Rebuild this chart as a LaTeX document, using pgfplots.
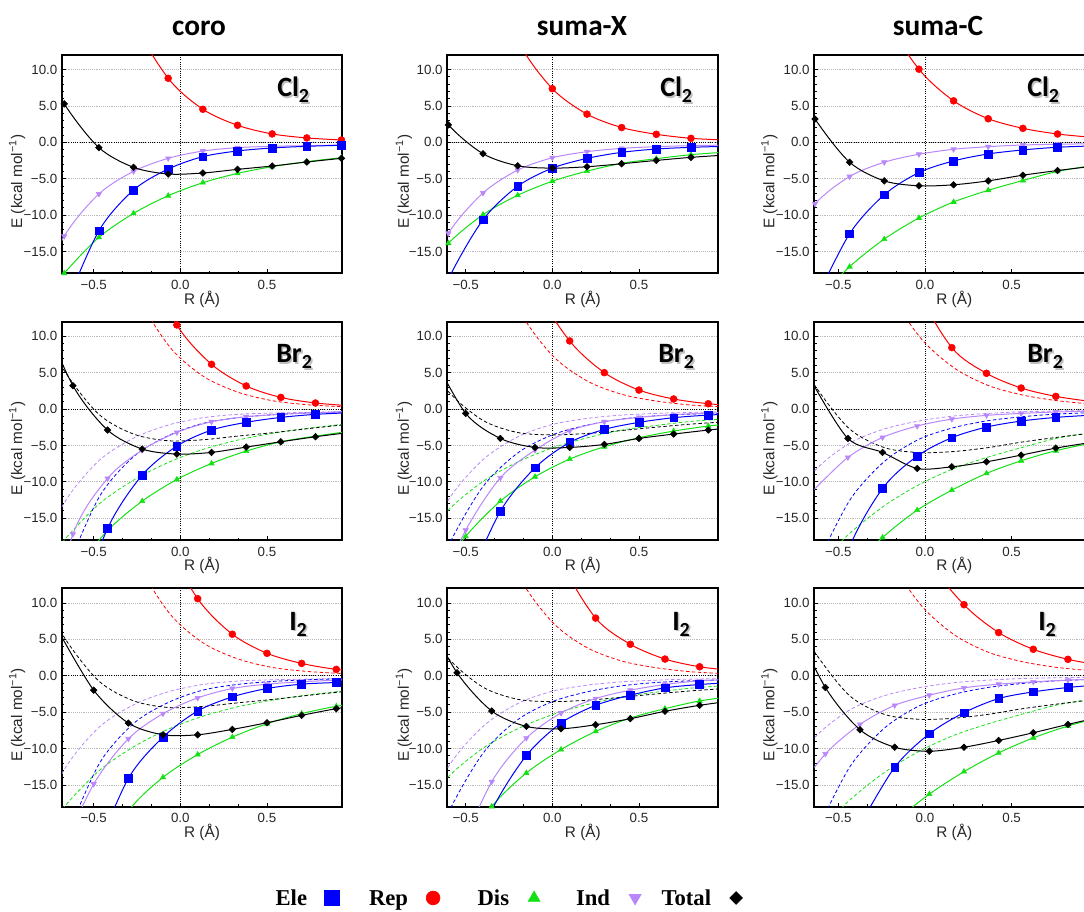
\documentclass[border=0pt]{standalone}
\usepackage{pgfplots}
\pgfplotsset{compat=1.18}
\usepackage{pgfplotstable}
\usepackage{fontspec}
\setmainfont{Liberation Sans}
\newfontfamily\titlefont{Carlito}
\newfontfamily\legfont{Liberation Serif}

\definecolor{cEle}{RGB}{0,0,255}
\definecolor{cRep}{RGB}{255,0,0}
\definecolor{cDis}{RGB}{20,225,20}
\definecolor{cInd}{RGB}{185,135,250}
\definecolor{cTot}{RGB}{0,0,0}

% ---------------- data (x, Ele, Rep, Dis, Ind, Total) ----------------
\pgfplotstableread{
x E R D I T
-0.87 nan nan -24.0 -23.0 14.0
-0.67 -22.9 nan -18.0 -12.9 5.28
-0.47 -12.16 32.0 -13.07 -7.1 -0.73
-0.27 -6.56 17.0 -9.77 -3.99 -3.44
-0.07 -3.67 8.8 -7.34 -2.2 -4.36
0.13 -1.97 4.54 -5.55 -1.2 -4.22
0.33 -1.19 2.34 -4.27 -0.73 -3.72
0.53 -0.78 1.15 -3.35 -0.55 -3.26
0.73 -0.55 0.6 -2.66 -0.46 -2.71
0.93 -0.41 0.32 -2.11 -0.37 -2.2
}\coroCl
\pgfplotstableread{
x E R D I T
-0.8 -30.0 nan -19.5 -22.0 9.0
-0.6 -18.8 nan -13.87 -12.5 2.4
-0.4 -10.65 26.0 -9.95 -6.96 -1.57
-0.2 -6.04 14.0 -7.28 -3.82 -3.23
0.0 -3.55 7.37 -5.35 -2.12 -3.55
0.2 -2.21 3.87 -3.96 -1.29 -3.36
0.4 -1.38 2.03 -2.9 -0.83 -2.95
0.6 -0.92 1.1 -2.25 -0.6 -2.49
0.8 -0.69 0.55 -1.7 -0.46 -2.07
1.0 -0.55 0.3 -1.35 -0.38 -1.75
}\sumaXCl
\pgfplotstableread{
x E R D I T
-0.835 nan nan -28.0 -15.0 11.0
-0.635 -21.9 nan -22.0 -8.45 3.2
-0.435 -12.56 31.0 -17.1 -4.7 -2.74
-0.235 -7.21 17.7 -13.3 -2.74 -5.3
-0.035 -4.16 10.05 -10.4 -1.64 -5.98
0.165 -2.56 5.7 -8.2 -0.96 -5.84
0.365 -1.6 3.24 -6.6 -0.6 -5.3
0.565 -1.05 1.92 -5.25 -0.37 -4.52
0.765 -0.68 1.14 -4.0 -0.27 -3.88
0.965 -0.5 0.68 -3.2 -0.2 -3.3
}\sumaCCl
\pgfplotstableread{
x E R D I T
-0.82 nan nan nan -35.0 14.0
-0.62 -29.5 nan -22.5 -17.2 3.21
-0.42 -16.4 40.0 -16.7 -9.54 -2.89
-0.22 -9.08 21.8 -12.66 -5.64 -5.5
-0.02 -5.09 11.56 -9.68 -3.21 -6.19
0.18 -2.89 6.15 -7.48 -1.74 -5.96
0.38 -1.83 3.17 -5.78 -1.06 -5.23
0.58 -1.15 1.6 -4.5 -0.73 -4.5
0.78 -0.73 0.83 -3.72 -0.5 -3.81
0.98 -0.5 0.45 -3.05 -0.38 -3.2
}\coroBr
\pgfplotstableread{
x E R D I T
-0.7 nan nan -24.0 -27.0 7.8
-0.5 -24.4 nan -17.5 -16.65 -0.6
-0.3 -14.04 30.0 -12.66 -9.45 -4.04
-0.1 -8.07 17.0 -9.31 -5.64 -5.28
0.1 -4.59 9.36 -6.88 -2.98 -5.28
0.3 -2.8 5.0 -5.18 -1.74 -4.86
0.5 -1.83 2.61 -3.94 -1.15 -4.04
0.7 -1.19 1.38 -3.03 -0.78 -3.44
0.9 -0.83 0.73 -2.34 -0.55 -2.89
1.1 -0.62 0.4 -1.85 -0.4 -2.4
}\sumaXBr
\pgfplotstableread{
x E R D I T
-0.645 -35.0 nan -28.0 -11.2 3.4
-0.445 -19.5 nan -22.5 -6.65 -4.04
-0.245 -10.92 34.0 -17.66 -3.9 -5.96
-0.045 -6.47 17.0 -13.9 -2.34 -8.17
0.155 -3.94 8.44 -11.15 -1.38 -7.94
0.355 -2.48 4.91 -8.85 -0.87 -7.25
0.555 -1.65 2.89 -7.11 -0.6 -6.33
0.755 -1.15 1.74 -5.73 -0.41 -5.37
0.955 -0.85 1.05 -4.7 -0.3 -4.6
}\sumaCBr
\pgfplotstableread{
x E R D I T
-0.7 nan nan nan -25.0 6.0
-0.5 -25.0 nan -27.0 -14.88 -1.98
-0.3 -14.1 36.0 -18.6 -8.66 -6.5
-0.1 -8.43 19.6 -13.96 -5.2 -8.11
0.1 -4.84 10.6 -10.83 -3.04 -8.11
0.3 -2.9 5.71 -8.43 -1.75 -7.37
0.5 -1.75 3.09 -6.59 -1.15 -6.45
0.7 -1.15 1.7 -5.2 -0.83 -5.44
0.9 -0.92 0.88 -4.19 -0.6 -4.52
1.1 -0.7 0.5 -3.5 -0.45 -3.8
}\coroI
\pgfplotstableread{
x E R D I T
-0.75 nan nan nan nan 9.0
-0.55 -30.0 nan -25.0 -25.0 0.41
-0.35 -18.5 nan -17.97 -14.56 -4.84
-0.15 -10.97 30.0 -13.36 -8.57 -6.96
0.05 -6.5 16.0 -10.14 -5.12 -7.28
0.25 -4.06 7.93 -7.65 -3.13 -6.73
0.45 -2.67 4.33 -5.81 -1.98 -5.9
0.65 -1.66 2.3 -4.52 -1.2 -4.88
0.85 -1.2 1.24 -3.46 -0.69 -4.06
1.05 -0.9 0.7 -2.8 -0.5 -3.4
}\sumaXI
\pgfplotstableread{
x E R D I T
-0.775 nan nan nan -17.0 8.0
-0.575 nan nan nan -10.74 -1.61
-0.375 -20.5 nan -25.0 -6.68 -7.42
-0.175 -12.58 28.0 -20.1 -4.06 -9.82
0.025 -7.97 16.0 -16.27 -2.67 -10.37
0.225 -5.07 9.77 -13.18 -1.66 -9.82
0.425 -3.13 5.94 -10.6 -1.15 -8.89
0.625 -2.21 3.64 -8.53 -0.83 -7.83
0.825 -1.61 2.26 -6.91 -0.6 -6.68
1.025 -1.2 1.4 -5.6 -0.45 -5.6
}\sumaCI

% ---------------- styles ----------------
\pgfplotsset{
  panel/.style={
    scale only axis, height=163.7pt, anchor=south west,
    ymin=-18, ymax=12,
    axis line style={line width=1.5pt},
    tick align=inside, xtick pos=bottom, ytick pos=left,
    xtick={-0.5,0,0.5}, xticklabels={−0.5,0.0,0.5},
    ytick={-15,-10,-5,0,5,10}, yticklabels={−15.0,−10.0,−5.0,0.0,5.0,10.0},
    minor x tick num=2, minor y tick num=4,
    major tick length=3pt, minor tick length=1.8pt,
    tick style={black, line width=0.6pt},
    ymajorgrids, major grid style={gray!55, densely dotted, line width=0.5pt},
    tick label style={font=\fontsize{10}{12}\selectfont, text=black!85},
    xticklabel style={yshift=-1.5pt},
    xlabel={R (Å)}, ylabel={E (kcal mol\textsuperscript{−1})},
    label style={font=\fontsize{11.5}{13}\selectfont, text=black!85},
    xlabel style={at={(axis description cs:0.5,-0.118)}, anchor=center},
    ylabel style={at={(axis description cs:-0.16,0.42)}, anchor=center},
    clip=true,
  },
  colA/.style={panel, width=210pt, xmin=-0.683, xmax=0.933},
  colB/.style={panel, width=203.25pt, xmin=-0.606, xmax=0.958},
  colC/.style={panel, width=210pt, xmin=-0.639, xmax=0.977},
  lw/.style={line width=0.75pt, smooth, no marks, forget plot},
  dsh/.style={line width=0.6pt, smooth, no marks, forget plot, dash pattern=on 2.6pt off 1.8pt},
  mk/.style={only marks, forget plot, restrict y to domain=-18.35:12.35},
}

\newcommand{\zerolines}{%
  \draw[black, densely dotted, line width=0.7pt] (axis cs:0,-18) -- (axis cs:0,12);
  \draw[black, densely dotted, line width=0.7pt] (axis cs:-1,0) -- (axis cs:1.2,0);
}
\newcommand{\dashedpanel}[1]{%
  \addplot[cDis, dsh] table[x=x, y=D] {#1};
  \addplot[cInd, dsh] table[x=x, y=I] {#1};
  \addplot[cRep, dsh] table[x=x, y=R] {#1};
  \addplot[cEle, dsh] table[x=x, y=E] {#1};
  \addplot[cTot, dsh] table[x=x, y=T] {#1};
}
\newcommand{\solidpanel}[2]{%
  \addplot[cDis, lw] table[x=x, y=D] {#1};
  \addplot[cInd, lw] table[x=x, y=I] {#1};
  \addplot[cRep, lw] table[x=x, y=R] {#1};
  \addplot[cEle, lw] table[x=x, y=E] {#1};
  \addplot[cTot, lw] table[x=x, y=T] {#1};
  \addplot[cDis, mk, #2, mark=triangle*, mark size=2.3pt] table[x=x, y=D] {#1};
  \addplot[cInd, mk, #2, mark=triangle*, mark size=2.3pt, mark options={rotate=180}] table[x=x, y=I] {#1};
  \addplot[cRep, mk, #2, mark=*, mark size=2.6pt] table[x=x, y=R] {#1};
  \addplot[cEle, mk, #2, mark=square*, mark size=2.9pt] table[x=x, y=E] {#1};
  \addplot[cTot, mk, #2, mark=square*, mark size=1.75pt, mark options={rotate=45}] table[x=x, y=T] {#1};
}
\newcommand{\mfont}{\titlefont\bfseries\fontsize{21}{24}\selectfont}
\newcommand{\sfont}{\titlefont\bfseries\fontsize{15}{17}\selectfont}
\newcommand{\mol}[4]{%
  \node[anchor=base west, inner sep=0pt, text=black!25] at (#1+1.2pt,#2-1.2pt) {\mfont #3\raisebox{-4.5pt}{\sfont #4}};
  \node[anchor=base west, inner sep=0pt] at (#1,#2) {\mfont #3\raisebox{-4.5pt}{\sfont #4}};
}

\begin{document}
\begin{tikzpicture}
% ---------- row 1: Cl2 ----------
\begin{axis}[colA, at={(46.5pt,478.3pt)}]
  \zerolines
  \solidpanel{\coroCl}{restrict x to domain=-0.69:0.94}
\end{axis}
\begin{axis}[colB, at={(335.5pt,478.3pt)}]
  \zerolines
  \solidpanel{\sumaXCl}{restrict x to domain=-0.615:0.965}
\end{axis}
\begin{axis}[colC, at={(610.7pt,478.3pt)}]
  \zerolines
  \solidpanel{\sumaCCl}{restrict x to domain=-0.64:0.985}
\end{axis}
% ---------- row 2: Br2 ----------
\begin{axis}[colA, at={(46.5pt,278.25pt)}]
  \zerolines
  \dashedpanel{\coroCl}
  \solidpanel{\coroBr}{restrict x to domain=-0.69:0.94}
\end{axis}
\begin{axis}[colB, at={(335.5pt,278.25pt)}]
  \zerolines
  \dashedpanel{\sumaXCl}
  \solidpanel{\sumaXBr}{restrict x to domain=-0.615:0.965}
\end{axis}
\begin{axis}[colC, at={(610.7pt,278.25pt)}]
  \zerolines
  \dashedpanel{\sumaCCl}
  \solidpanel{\sumaCBr}{restrict x to domain=-0.64:0.985}
\end{axis}
% ---------- row 3: I2 ----------
\begin{axis}[colA, at={(46.5pt,78.2pt)}]
  \zerolines
  \dashedpanel{\coroCl}
  \solidpanel{\coroI}{restrict x to domain=-0.69:0.94}
\end{axis}
\begin{axis}[colB, at={(335.5pt,78.2pt)},
  legend columns=5, legend plot pos=right,
  legend style={at={(axis description cs:-0.761,-0.418)}, anchor=west,
    draw=none, fill=none, inner sep=0pt, outer sep=0pt,
    column sep=0pt, row sep=0pt,
    font=\legfont\bfseries\fontsize{17}{20}\selectfont,
    nodes={inner sep=0pt, text height=11.3pt, text depth=0pt}},
  legend image code/.code={\path[draw=none, fill=none] (-7.5pt,-8pt) rectangle (7.5pt,8pt);
    \draw[#1] plot[only marks] coordinates {(0pt,0pt)};}]
  \zerolines
  \dashedpanel{\sumaXCl}
  \solidpanel{\sumaXI}{restrict x to domain=-0.615:0.965}
  \addlegendimage{cEle, mark=square*, mark size=5.6pt}
  \addlegendentry{\makebox[60.75pt][r]{Ele\hspace{11.25pt}}}
  \addlegendimage{cRep, mark=*, mark size=5.2pt}
  \addlegendentry{\makebox[60.75pt][r]{Rep\hspace{11.25pt}}}
  \addlegendimage{cDis, mark=triangle*, mark size=5.2pt}
  \addlegendentry{\makebox[60.75pt][r]{Dis\hspace{11.25pt}}}
  \addlegendimage{cInd, mark=triangle*, mark size=5.2pt, mark options={rotate=180}}
  \addlegendentry{\makebox[60.75pt][r]{Ind\hspace{11.25pt}}}
  \addlegendimage{cTot, mark=square*, mark size=3.4pt, mark options={rotate=45}}
  \addlegendentry{\makebox[60.75pt][r]{Total\hspace{11.25pt}}}
\end{axis}
\begin{axis}[colC, at={(610.7pt,78.2pt)}]
  \zerolines
  \dashedpanel{\sumaCCl}
  \solidpanel{\sumaCI}{restrict x to domain=-0.64:0.985}
\end{axis}
% ---------- titles ----------
\node[anchor=base, inner sep=0pt] at (149.25pt,656.25pt) {\titlefont\bfseries\fontsize{22}{26}\selectfont coro};
\node[anchor=base, inner sep=0pt] at (436.5pt,656.25pt) {\titlefont\bfseries\fontsize{22}{26}\selectfont suma-X};
\node[anchor=base, inner sep=0pt] at (703.5pt,656.25pt) {\titlefont\bfseries\fontsize{22}{26}\selectfont suma-C};
% ---------- molecule labels ----------
\mol{207.75pt}{610.5pt}{Cl}{2}
\mol{495pt}{610.5pt}{Cl}{2}
\mol{770.25pt}{610.5pt}{Cl}{2}
\mol{207pt}{411pt}{Br}{2}
\mol{493.5pt}{411pt}{Br}{2}
\mol{770.25pt}{411pt}{Br}{2}
\mol{216.75pt}{210.75pt}{I}{2}
\mol{504pt}{210.75pt}{I}{2}
\mol{778.5pt}{210.75pt}{I}{2}
% ---------- page frame ----------
\pgfresetboundingbox
\path[use as bounding box] (0pt,0pt) rectangle (813pt,683.25pt);
\end{tikzpicture}
\end{document}
